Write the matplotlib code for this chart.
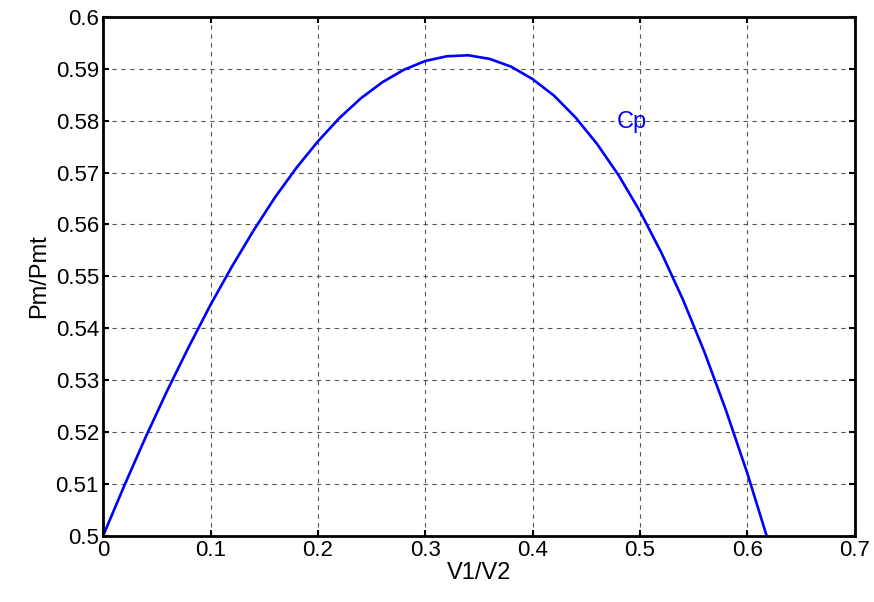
import matplotlib
matplotlib.use("Agg")
import matplotlib.pyplot as plt

# speed ratio V1/V2 and power coefficient Pm/Pmt
ratio = [0.00, 0.02, 0.04, 0.06, 0.08, 0.10, 0.12, 0.14, 0.16, 0.18,
         0.20, 0.22, 0.24, 0.26, 0.28, 0.30, 0.32, 0.34, 0.36, 0.38,
         0.40, 0.42, 0.44, 0.46, 0.48, 0.50, 0.52, 0.54, 0.56, 0.58,
         0.60, 0.62]
cp = [0.5000, 0.5098, 0.5192, 0.5281, 0.5365, 0.5445, 0.5519, 0.5588,
      0.5652, 0.5709, 0.5760, 0.5805, 0.5843, 0.5874, 0.5898, 0.5915,
      0.5924, 0.5926, 0.5919, 0.5904, 0.5880, 0.5848, 0.5806, 0.5755,
      0.5695, 0.5625, 0.5545, 0.5455, 0.5354, 0.5242, 0.5120, 0.4986]

xticks = [0, 0.1, 0.2, 0.3, 0.4, 0.5, 0.6, 0.7]
yticks = [0.5, 0.51, 0.52, 0.53, 0.54, 0.55, 0.56, 0.57, 0.58, 0.59, 0.6]

plt.rcParams['font.family'] = ['Liberation Sans', 'DejaVu Sans']

fig = plt.figure(figsize=(8.74, 6.02), dpi=100)
ax = fig.add_axes([0.118, 0.110, 0.860, 0.862])

ax.plot(ratio, cp, color='#0000ff', linewidth=1.9)
ax.text(0.478, 0.5785, 'Cp', color='#0000ff', fontsize=17)

ax.set_xlim(0, 0.7)
ax.set_ylim(0.5, 0.6)
ax.set_xticks(xticks)
ax.set_yticks(yticks)
ax.set_xticklabels([f'{t:g}' for t in xticks])
ax.set_yticklabels([f'{t:g}' for t in yticks])
ax.tick_params(direction='in', top=True, right=True, labelsize=16,
               length=4, width=1.5, pad=3)
ax.grid(True, color='#555555', linestyle=(0, (4, 4)), linewidth=0.8)
for s in ax.spines.values():
    s.set_linewidth(2.0)

ax.set_xlabel('V1/V2', fontsize=17, labelpad=1)
ax.set_ylabel('Pm/Pmt', fontsize=17, labelpad=4)

fig.savefig('out.png', dpi=100)
